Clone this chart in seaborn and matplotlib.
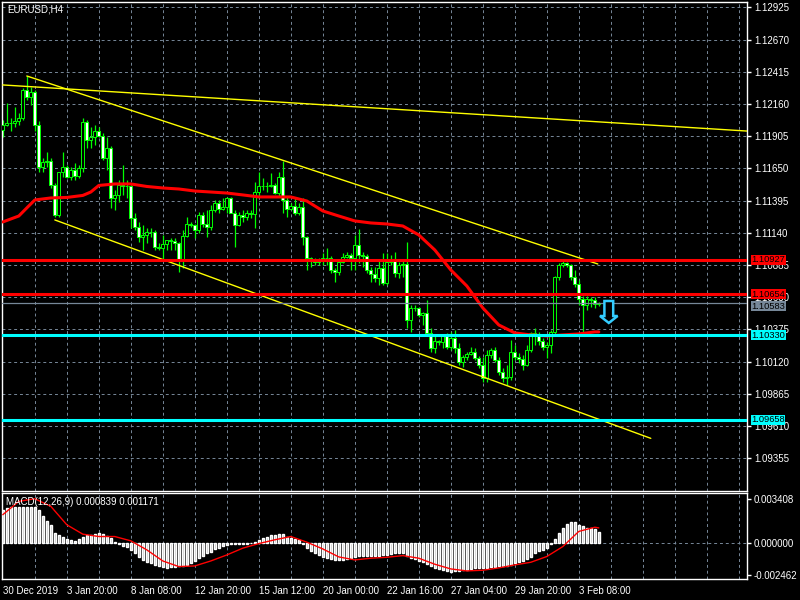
import numpy as np
import pandas as pd
import matplotlib
matplotlib.use("Agg")
import matplotlib.pyplot as plt
import matplotlib.transforms as mtransforms
from matplotlib.patches import Polygon
import seaborn as sns

# MT4 style: black background
sns.set_style("dark", {"axes.facecolor": "black", "figure.facecolor": "black",
                       "axes.edgecolor": "white"})
plt.rcParams['font.family'] = ['Liberation Sans', 'DejaVu Sans']

symbol_title = "EURUSD,H4"
macd_title = "MACD(12,26,9) 0.000839 0.001171"

# EURUSD H4 bars, oldest first
opens = [1.11954, 1.11994, 1.12010, 1.12010, 1.12026, 1.12049, 1.12271, 1.12216, 1.12255, 1.11994,
         1.11661, 1.11701, 1.11709, 1.11519, 1.11281, 1.11622, 1.11661, 1.11582, 1.11638, 1.11590,
         1.11653, 1.12018, 1.11875, 1.11899, 1.11946, 1.11907, 1.11733, 1.11812, 1.11416, 1.11440,
         1.11519, 1.11511, 1.11511, 1.11257, 1.11186, 1.11107, 1.11123, 1.11147, 1.11147, 1.11028,
         1.11020, 1.11052, 1.11083, 1.11075, 1.11059, 1.10933, 1.11115, 1.11210, 1.11202, 1.11162,
         1.11281, 1.11210, 1.11186, 1.11321, 1.11376, 1.11329, 1.11345, 1.11416, 1.11297, 1.11202,
         1.11281, 1.11265, 1.11297, 1.11289, 1.11463, 1.11511, 1.11511, 1.11511, 1.11519, 1.11455,
         1.11582, 1.11400, 1.11329, 1.11352, 1.11297, 1.11345, 1.11107, 1.10941, 1.10917, 1.10909,
         1.10917, 1.10941, 1.10941, 1.10846, 1.10830, 1.10909, 1.10949, 1.10964, 1.10941, 1.11044,
         1.10964, 1.10956, 1.10846, 1.10814, 1.10782, 1.10861, 1.10743, 1.10909, 1.10933, 1.10822,
         1.10885, 1.10893, 1.10450, 1.10545, 1.10545, 1.10489, 1.10505, 1.10347, 1.10228, 1.10283,
         1.10275, 1.10323, 1.10236, 1.10307, 1.10228, 1.10117, 1.10157, 1.10180, 1.10196, 1.10149,
         1.10093, 1.09990, 1.10172, 1.10212, 1.10133, 1.10038, 1.09990, 1.09998, 1.10196, 1.10157,
         1.10141, 1.10093, 1.10212, 1.10347, 1.10331, 1.10283, 1.10236, 1.10252, 1.10355, 1.10790,
         1.10885, 1.10901, 1.10885, 1.10790, 1.10735, 1.10616, 1.10568, 1.10616, 1.10608, 1.10576]
highs = [1.12034, 1.12168, 1.12049, 1.12137, 1.12089, 1.12287, 1.12382, 1.12295, 1.12271, 1.12026,
         1.11733, 1.11780, 1.11733, 1.11535, 1.11622, 1.11780, 1.11677, 1.11661, 1.11693, 1.11677,
         1.12049, 1.12034, 1.11978, 1.11994, 1.11978, 1.11931, 1.11899, 1.11828, 1.11479, 1.11558,
         1.11677, 1.11558, 1.11519, 1.11297, 1.11226, 1.11202, 1.11178, 1.11178, 1.11162, 1.11059,
         1.11123, 1.11083, 1.11099, 1.11099, 1.11067, 1.11162, 1.11265, 1.11226, 1.11210, 1.11305,
         1.11305, 1.11321, 1.11360, 1.11400, 1.11400, 1.11416, 1.11424, 1.11424, 1.11321, 1.11305,
         1.11321, 1.11321, 1.11321, 1.11543, 1.11622, 1.11574, 1.11543, 1.11614, 1.11535, 1.11622,
         1.11709, 1.11424, 1.11376, 1.11416, 1.11376, 1.11416, 1.11115, 1.10949, 1.10941, 1.10941,
         1.10980, 1.11020, 1.10956, 1.10861, 1.10925, 1.10980, 1.10988, 1.10980, 1.11123, 1.11170,
         1.10988, 1.10972, 1.10869, 1.10869, 1.10925, 1.10980, 1.10980, 1.10964, 1.10988, 1.10909,
         1.10925, 1.11067, 1.10568, 1.10568, 1.10553, 1.10513, 1.10608, 1.10386, 1.10331, 1.10291,
         1.10331, 1.10347, 1.10355, 1.10370, 1.10267, 1.10172, 1.10196, 1.10236, 1.10228, 1.10164,
         1.10157, 1.10212, 1.10228, 1.10236, 1.10157, 1.10070, 1.10093, 1.10291, 1.10252, 1.10188,
         1.10172, 1.10252, 1.10355, 1.10386, 1.10355, 1.10307, 1.10275, 1.10370, 1.10798, 1.10901,
         1.10917, 1.10909, 1.10893, 1.10846, 1.10766, 1.10640, 1.10640, 1.10632, 1.10632, 1.10592]
lows = [1.11899, 1.11986, 1.11946, 1.11978, 1.11994, 1.12034, 1.12192, 1.12152, 1.11946, 1.11622,
        1.11622, 1.11661, 1.11495, 1.11265, 1.11265, 1.11582, 1.11574, 1.11558, 1.11558, 1.11574,
        1.11622, 1.11812, 1.11812, 1.11836, 1.11899, 1.11717, 1.11638, 1.11337, 1.11321, 1.11384,
        1.11440, 1.11416, 1.11178, 1.11162, 1.11067, 1.11004, 1.11059, 1.11107, 1.11004, 1.11004,
        1.10925, 1.11004, 1.11004, 1.11004, 1.10830, 1.10861, 1.11107, 1.11186, 1.11099, 1.11139,
        1.11186, 1.11107, 1.11162, 1.11305, 1.11297, 1.11321, 1.11297, 1.11297, 1.11028, 1.11194,
        1.11226, 1.11242, 1.11257, 1.11178, 1.11424, 1.11479, 1.11463, 1.11503, 1.11448, 1.11424,
        1.11297, 1.11265, 1.11321, 1.11281, 1.11281, 1.11044, 1.10846, 1.10869, 1.10885, 1.10885,
        1.10885, 1.10885, 1.10822, 1.10751, 1.10806, 1.10901, 1.10941, 1.10846, 1.10846, 1.10901,
        1.10869, 1.10822, 1.10751, 1.10751, 1.10727, 1.10727, 1.10727, 1.10885, 1.10790, 1.10782,
        1.10790, 1.10386, 1.10355, 1.10521, 1.10473, 1.10410, 1.10331, 1.10196, 1.10188, 1.10252,
        1.10228, 1.10220, 1.10212, 1.10188, 1.10093, 1.10078, 1.10133, 1.10172, 1.10133, 1.10070,
        1.09959, 1.09959, 1.10149, 1.10117, 1.10014, 1.09959, 1.09935, 1.09974, 1.10133, 1.10109,
        1.10054, 1.10085, 1.10196, 1.10252, 1.10252, 1.10212, 1.10149, 1.10188, 1.10339, 1.10766,
        1.10869, 1.10869, 1.10766, 1.10711, 1.10568, 1.10347, 1.10529, 1.10553, 1.10545, 1.10560]
closes = [1.11994, 1.12010, 1.12010, 1.12026, 1.12049, 1.12271, 1.12216, 1.12255, 1.11994, 1.11661,
          1.11701, 1.11709, 1.11519, 1.11281, 1.11622, 1.11661, 1.11582, 1.11638, 1.11590, 1.11653,
          1.12018, 1.11875, 1.11899, 1.11946, 1.11907, 1.11733, 1.11812, 1.11416, 1.11440, 1.11519,
          1.11511, 1.11511, 1.11257, 1.11186, 1.11107, 1.11123, 1.11147, 1.11147, 1.11028, 1.11020,
          1.11052, 1.11083, 1.11075, 1.11059, 1.10933, 1.11115, 1.11210, 1.11202, 1.11162, 1.11281,
          1.11210, 1.11186, 1.11321, 1.11376, 1.11329, 1.11345, 1.11416, 1.11297, 1.11202, 1.11281,
          1.11265, 1.11297, 1.11289, 1.11463, 1.11511, 1.11511, 1.11511, 1.11519, 1.11455, 1.11582,
          1.11400, 1.11329, 1.11352, 1.11297, 1.11345, 1.11107, 1.10941, 1.10917, 1.10909, 1.10917,
          1.10941, 1.10941, 1.10846, 1.10830, 1.10909, 1.10949, 1.10964, 1.10941, 1.11044, 1.10964,
          1.10956, 1.10846, 1.10814, 1.10782, 1.10861, 1.10743, 1.10909, 1.10933, 1.10822, 1.10885,
          1.10893, 1.10450, 1.10545, 1.10545, 1.10489, 1.10505, 1.10347, 1.10228, 1.10283, 1.10275,
          1.10323, 1.10236, 1.10307, 1.10228, 1.10117, 1.10157, 1.10180, 1.10196, 1.10149, 1.10093,
          1.09990, 1.10172, 1.10212, 1.10133, 1.10038, 1.09990, 1.09998, 1.10196, 1.10157, 1.10141,
          1.10093, 1.10212, 1.10347, 1.10331, 1.10283, 1.10236, 1.10252, 1.10355, 1.10790, 1.10885,
          1.10901, 1.10885, 1.10790, 1.10735, 1.10616, 1.10568, 1.10616, 1.10608, 1.10576, 1.10583]

# moving average (red line), read every few bars
ma_bars = [0, 4, 6, 8, 12, 16, 20, 22, 24, 28, 32, 36, 40, 44, 48, 52, 56, 60, 64, 68,
           72, 76, 80, 84, 88, 92, 96, 100, 104, 108, 112, 116, 120, 124, 128, 132, 136, 140,
           144, 148, 149]
ma_vals = [1.11226, 1.11273, 1.11337, 1.11400, 1.11416, 1.11420, 1.11436, 1.11463, 1.11515,
           1.11527, 1.11527, 1.11507, 1.11495, 1.11487, 1.11471, 1.11463, 1.11455, 1.11440,
           1.11424, 1.11424, 1.11424, 1.11392, 1.11313, 1.11273, 1.11234, 1.11218, 1.11210,
           1.11194, 1.11123, 1.11004, 1.10846, 1.10719, 1.10545, 1.10410, 1.10347, 1.10331,
           1.10323, 1.10331, 1.10339, 1.10355, 1.10355]

# MACD main (histogram), one per bar
macd_main = [0.00256, 0.00269, 0.00274, 0.00274, 0.00274, 0.00274, 0.00274, 0.00274, 0.00274, 0.00256,
             0.00205, 0.00166, 0.00136, 0.00077, 0.00059, 0.00051, 0.00033, 0.00026, 0.00018, 0.00033,
             0.00051, 0.00059, 0.00064, 0.00072, 0.00077, 0.00069, 0.00056, 0.00038, 0.00008, -0.00008,
             -0.00018, -0.00026, -0.00051, -0.00077, -0.00102, -0.00128, -0.00141, -0.00154, -0.00166, -0.00174,
             -0.00184, -0.00187, -0.00184, -0.00182, -0.00174, -0.00174, -0.00166, -0.00154, -0.00136, -0.00115,
             -0.00095, -0.00077, -0.00064, -0.00046, -0.00033, -0.00020, -0.00013, -0.00008, -0.00005, -0.00003,
             -0.00005, -0.00008, 0.00000, 0.00008, 0.00026, 0.00038, 0.00051, 0.00059, 0.00064, 0.00069,
             0.00069, 0.00051, 0.00038, 0.00031, 0.00026, -0.00008, -0.00038, -0.00059, -0.00077, -0.00090,
             -0.00102, -0.00110, -0.00120, -0.00128, -0.00128, -0.00128, -0.00120, -0.00110, -0.00102, -0.00095,
             -0.00095, -0.00095, -0.00095, -0.00095, -0.00095, -0.00090, -0.00090, -0.00084, -0.00077, -0.00077,
             -0.00077, -0.00095, -0.00110, -0.00120, -0.00136, -0.00146, -0.00161, -0.00172, -0.00187, -0.00197,
             -0.00205, -0.00212, -0.00218, -0.00212, -0.00212, -0.00205, -0.00205, -0.00197, -0.00192, -0.00192,
             -0.00192, -0.00187, -0.00179, -0.00179, -0.00172, -0.00172, -0.00174, -0.00166, -0.00154, -0.00146,
             -0.00136, -0.00120, -0.00102, -0.00077, -0.00059, -0.00051, -0.00038, -0.00008, 0.00033, 0.00077,
             0.00120, 0.00146, 0.00161, 0.00161, 0.00141, 0.00128, 0.00115, 0.00115, 0.00110, 0.00084]

# MACD signal line, read every 4 bars
sig_bars = [0, 4, 8, 12, 16, 20, 24, 28, 32, 36, 40, 44, 48, 52, 56, 60, 64, 68, 72, 76,
            80, 84, 88, 92, 96, 100, 104, 108, 112, 116, 120, 124, 128, 132, 136, 140, 144,
            148, 149]
sig_vals = [0.00218, 0.00320, 0.00340, 0.00282, 0.00141, 0.00069, 0.00051, 0.00051, 0.00018,
            -0.00051, -0.00136, -0.00179, -0.00174, -0.00136, -0.00090, -0.00038, -0.00003,
            0.00026, 0.00051, 0.00008, -0.00044, -0.00105, -0.00128, -0.00115, -0.00108,
            -0.00095, -0.00115, -0.00161, -0.00197, -0.00212, -0.00207, -0.00189, -0.00166,
            -0.00146, -0.00102, -0.00026, 0.00090, 0.00122, 0.00117]

price_ticks = [1.12925, 1.12670, 1.12415, 1.12160, 1.11905, 1.11650, 1.11395, 1.11140,
               1.10885, 1.10630, 1.10375, 1.10120, 1.09865, 1.09610, 1.09355]
macd_ticks = [0.003408, 0.0, -0.002462]
macd_tick_labels = ["0.003408", "0.000000", "-0.002462"]
time_label_bars = [0, 16, 32, 48, 64, 80, 96, 112, 128, 144]
time_labels = ["30 Dec 2019", "3 Jan 20:00", "8 Jan 08:00", "12 Jan 20:00", "15 Jan 12:00",
               "20 Jan 00:00", "22 Jan 16:00", "27 Jan 04:00", "29 Jan 20:00", "3 Feb 08:00"]

red_levels = [1.10927, 1.10654]
cyan_levels = [1.10330, 1.09658]
bid_level = 1.10583

# trend lines: (bar0, price0, bar1, price1)
trend_long = (0, 1.12311, 186, 1.11946)
channel_top = (6, 1.12382, 148.75, 1.10893)
channel_bottom = (13, 1.11242, 162, 1.09512)

# sell arrow
arrow_bar = 151.5
arrow_top = 1.10600
arrow_neck = 1.10481
arrow_tip = 1.10426

df = pd.DataFrame({'open': opens, 'high': highs, 'low': lows, 'close': closes})
df['bar'] = np.arange(len(df))
bull = df['close'] >= df['open']

GRID = '#778899'
DASH = (0, (3, 3))
FS = 7
GREEN = '#00FF00'

fig = plt.figure(figsize=(8, 6), dpi=100, facecolor='black')
ax = fig.add_axes([2 / 800, 109 / 600, 745 / 800, 489 / 600])
axm = fig.add_axes([2 / 800, 21 / 600, 745 / 800, 86 / 600])

for a in (ax, axm):
    a.set_facecolor('black')
    a.set_xlim(-0.2, 186.05)
    for b in range(8, 187, 8):
        a.axvline(b, color=GRID, lw=0.7, ls=DASH, zorder=1)
    for s in a.spines.values():
        s.set_color('white')
        s.set_linewidth(1)
for p in price_ticks:
    ax.axhline(p, color=GRID, lw=0.7, ls=DASH, zorder=1)
axm.axhline(0, color=GRID, lw=0.7, ls=DASH, zorder=1)

# candles
ax.vlines(df['bar'], df['low'], df['high'], color=GREEN, lw=0.9, zorder=2)
body_lo = df[['open', 'close']].min(axis=1)
body_h = (df['close'] - df['open']).abs()
ax.bar(df['bar'], body_h, bottom=body_lo, width=0.7,
       color=np.where(bull, 'black', 'white'), edgecolor=GREEN, linewidth=0.7, zorder=3)

sns.lineplot(x=ma_bars, y=ma_vals, color='red', lw=2.2, ax=ax, zorder=4)

for x0, y0, x1, y1 in (trend_long, channel_top, channel_bottom):
    ax.plot([x0, x1], [y0, y1], color='yellow', lw=1, zorder=4)

for lvl in red_levels:
    ax.axhline(lvl, color='red', lw=2.2, zorder=5)
for lvl in cyan_levels:
    ax.axhline(lvl, color='cyan', lw=2.2, zorder=5)
ax.axhline(bid_level, color=GRID, lw=0.9, zorder=5)

b = arrow_bar
arrow = Polygon([(b - 1.1, arrow_top), (b + 1.1, arrow_top), (b + 1.1, arrow_neck),
                 (b + 2.2, arrow_neck), (b, arrow_tip), (b - 2.2, arrow_neck),
                 (b - 1.1, arrow_neck)], closed=True, fc='black', ec='#33CCFF', lw=1.8, zorder=6)
ax.add_patch(arrow)

ax.set_ylim(1.09095, 1.12968)
ax.set_yticks(price_ticks)
ax.set_yticklabels([f"{p:.5f}" for p in price_ticks])
ax.yaxis.tick_right()
ax.tick_params(axis='y', colors='white', labelsize=FS, length=3, width=1, pad=2, direction='out')
ax.set_xticks([])
ax.set_xlabel('')
ax.set_ylabel('')

# price boxes on the right scale (bid box sits just under its line)
trans = mtransforms.blended_transform_factory(ax.transAxes, ax.transData)
bid_trans = mtransforms.offset_copy(trans, fig=fig, y=-3, units='dots')
boxes = ([(v, 'red', trans) for v in red_levels] + [(v, 'cyan', trans) for v in cyan_levels]
         + [(bid_level, GRID, bid_trans)])
for lvl, fc, tr in boxes:
    ax.text(1.006, lvl, f"{lvl:.5f}", transform=tr, ha='left', va='center', fontsize=FS - 0.3,
            color='black', bbox=dict(boxstyle='square,pad=0.04', fc=fc, ec='none'),
            zorder=10, clip_on=False)

# MACD panel
axm.bar(np.arange(len(macd_main)), macd_main, width=0.5, color='#C0C0C0', zorder=2)
sns.lineplot(x=sig_bars, y=sig_vals, color='red', lw=1, ax=axm, zorder=3)
axm.set_ylim(-0.00274, 0.00384)
axm.set_yticks(macd_ticks)
axm.set_yticklabels(macd_tick_labels)
axm.yaxis.tick_right()
axm.tick_params(axis='y', colors='white', labelsize=FS, length=3, width=1, pad=2, direction='out')
axm.set_xticks(time_label_bars)
axm.set_xticklabels(time_labels)
for t in axm.get_xticklabels():
    t.set_ha('left')
axm.tick_params(axis='x', colors='white', labelsize=FS, length=3, width=1, pad=2, direction='out')
axm.set_xlabel('')
axm.set_ylabel('')

fig.text(7 / 800, 1 - 9 / 600, symbol_title, color='white', fontsize=FS, va='center', ha='left')
fig.text(6 / 800, 1 - 502 / 600, macd_title, color='white', fontsize=FS, va='center', ha='left')

fig.savefig('out.png', dpi=100, facecolor='black')
